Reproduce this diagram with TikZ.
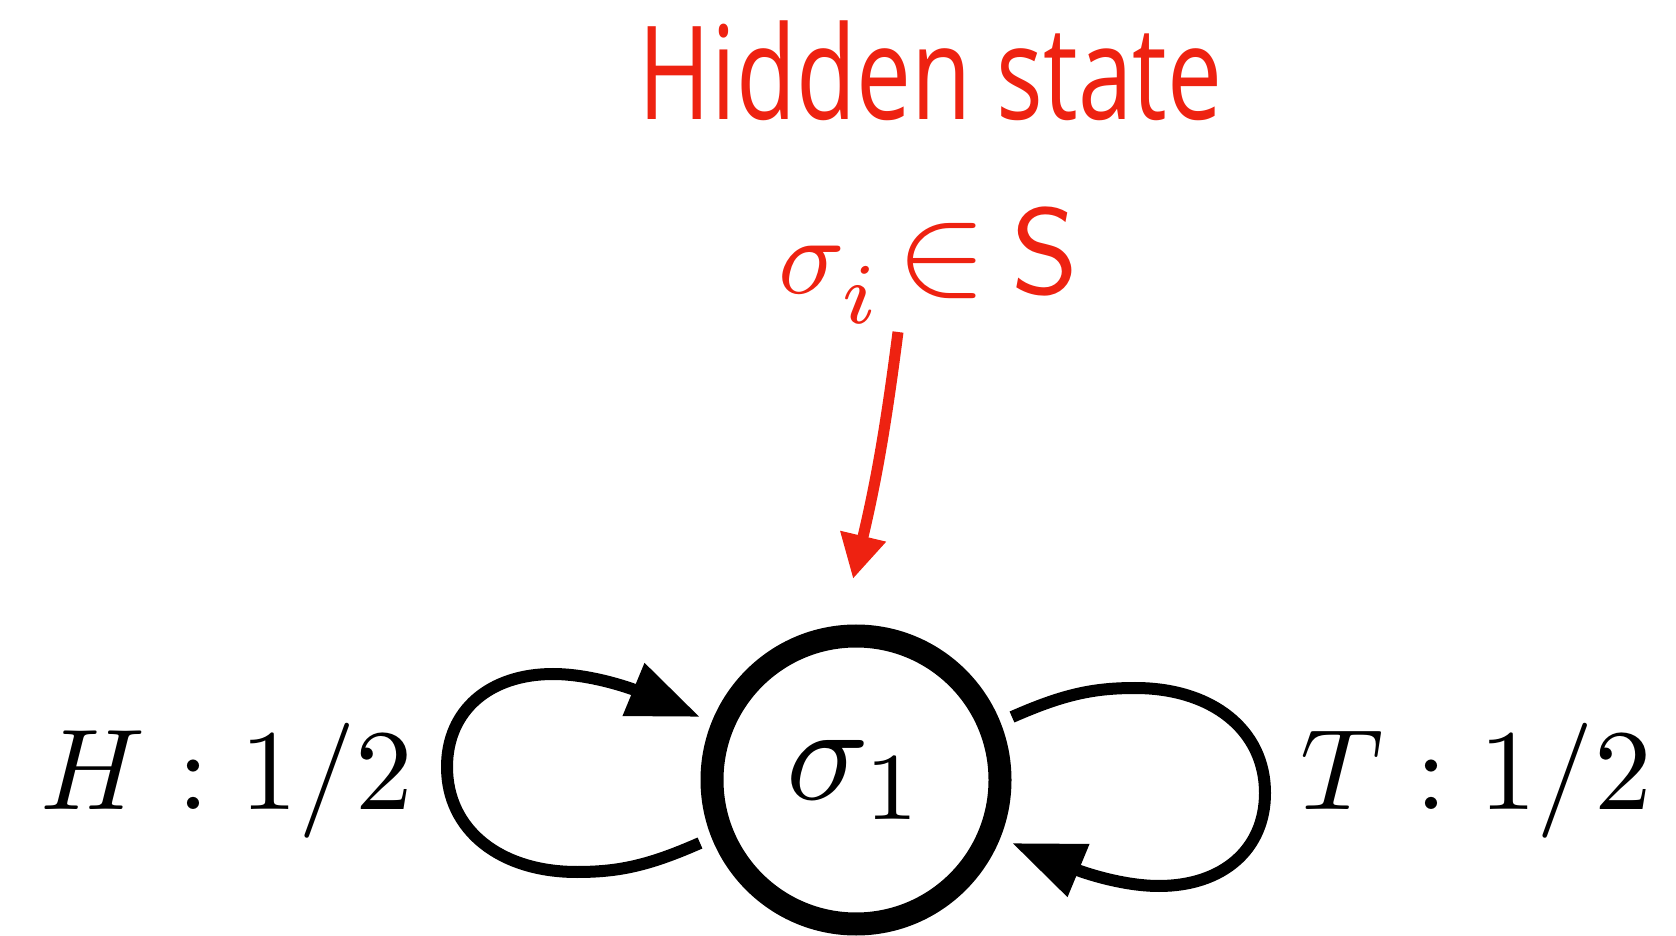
\documentclass[tikz,border=0pt]{standalone}
\usepackage{fontspec}
\usepackage{graphicx}
\newfontfamily\hsfont{Open Sans}
\usetikzlibrary{arrows.meta}
\definecolor{hred}{RGB}{238,34,17}
\begin{document}
\begin{tikzpicture}[x=1pt,y=1pt,
  state/.style={circle, draw, line width=23pt, minimum size=288pt, inner sep=0pt},
  loopline/.style={line width=12pt, -{Triangle[length=72pt,width=54pt]}},
  redarrow/.style={hred, line width=11pt, -{Triangle[length=44pt,width=44pt]}},
  redtxt/.style={text=hred, inner sep=0pt},
  lbl/.style={inner sep=0pt}]
\useasboundingbox (0,0) rectangle (1676,935);
\node[state] (s) at (856,155) {\scalebox{13.7}{$\sigma_1$}};
\node[redtxt, anchor=base] (title) at (930.5,815) {\hsfont\scalebox{9.8}[13]{Hidden state}};
\node[redtxt, anchor=base] (hs) at (929,641) {\scalebox{11}{$\sigma_{\raisebox{-1.2pt}{\scalebox{1.12}{$\scriptstyle i$}}}\mathrel{\kern-1.5pt\scalebox{1.24}[1.18]{$\in$}}\mathord{\kern-0.5pt\scalebox{1.1}{$\mathsf{S}$}}$}};
\node[lbl, anchor=base] (h) at (227,126) {\scalebox{11.5}{$H : 1/2$}};
\node[lbl, anchor=base] (t) at (1476,126) {\scalebox{11.5}{$T : 1/2$}};
\coordinate (ra) at (898,603);
\coordinate (rb) at (853,356);
\draw[redarrow] (ra) to[bend left=3] (rb);
\begin{scope}[shift={(s.center)}]
  \coordinate (la) at (-156,-63);
  \coordinate (lb) at (-156,63);
  \draw[loopline] (la) .. controls (-206,-85) and (-236,-92) .. (-279,-92)
    .. controls (-356,-92) and (-409,-50) .. (-409,13)
    .. controls (-409,70) and (-366,106) .. (-303,106)
    .. controls (-266,106) and (-226,92) .. (lb);
\end{scope}
\begin{scope}[shift={(s.center)}, rotate=180]
  \coordinate (rra) at (-156,-63);
  \coordinate (rrb) at (-156,63);
  \draw[loopline] (rra) .. controls (-206,-85) and (-236,-92) .. (-279,-92)
    .. controls (-356,-92) and (-409,-50) .. (-409,13)
    .. controls (-409,70) and (-366,106) .. (-303,106)
    .. controls (-266,106) and (-226,92) .. (rrb);
\end{scope}
\end{tikzpicture}
\end{document}
